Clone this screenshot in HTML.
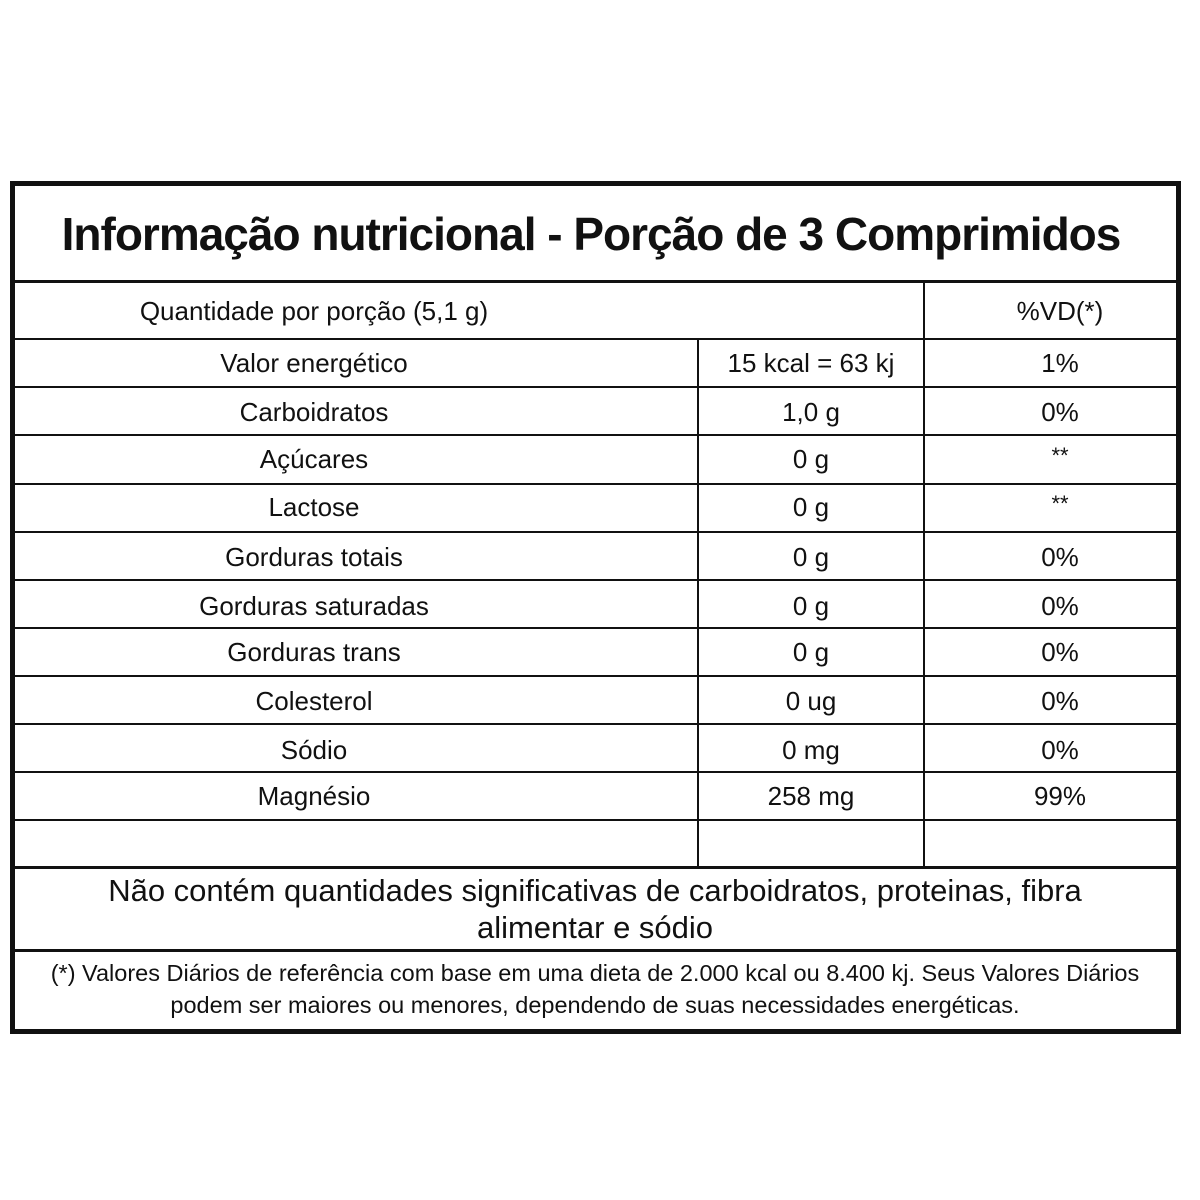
<!DOCTYPE html>
<html><head><meta charset="utf-8"><style>
body{margin:0;width:1200px;height:1200px;background:#fff;position:relative;font-family:"Liberation Sans","DejaVu Sans",sans-serif;color:#111;overflow:hidden}
.box{position:absolute;left:10px;top:181px;width:1161px;height:843px;border:5px solid #111}
.h{position:absolute;height:2px;background:#111}
.v{position:absolute;width:2px;background:#111}
.t{position:absolute;text-align:center;white-space:nowrap;font-size:26px;line-height:30px}
</style></head><body>
<div class="box"></div>
<div class="h" style="left:14px;width:1162px;top:280px;height:3px"></div>
<div class="h" style="left:14px;width:1162px;top:338px"></div>
<div class="h" style="left:14px;width:1162px;top:386px"></div>
<div class="h" style="left:14px;width:1162px;top:434px"></div>
<div class="h" style="left:14px;width:1162px;top:483px"></div>
<div class="h" style="left:14px;width:1162px;top:531px"></div>
<div class="h" style="left:14px;width:1162px;top:579px"></div>
<div class="h" style="left:14px;width:1162px;top:627px"></div>
<div class="h" style="left:14px;width:1162px;top:675px"></div>
<div class="h" style="left:14px;width:1162px;top:723px"></div>
<div class="h" style="left:14px;width:1162px;top:771px"></div>
<div class="h" style="left:14px;width:1162px;top:819px"></div>
<div class="h" style="left:14px;width:1162px;top:866px;height:3px"></div>
<div class="h" style="left:14px;width:1162px;top:949px;height:3px"></div>
<div class="v" style="left:923px;top:282px;height:585px"></div>
<div class="v" style="left:697px;top:339px;height:528px"></div>
<div class="t" style="left:10px;width:1162px;top:204px;font-size:46px;line-height:60px;font-weight:bold;letter-spacing:-1px">Informação nutricional - Porção de 3 Comprimidos</div>
<div class="t" style="left:14px;width:600px;top:296px">Quantidade por porção (5,1 g)</div>
<div class="t" style="left:925px;width:270px;top:296px">%VD(*)</div>
<div class="t" style="left:14px;width:600px;top:348px">Valor energético</div><div class="t" style="left:699px;width:224px;top:348px">15 kcal = 63 kj</div><div class="t" style="left:925px;width:270px;top:348px">1%</div>
<div class="t" style="left:14px;width:600px;top:397px">Carboidratos</div><div class="t" style="left:699px;width:224px;top:397px">1,0 g</div><div class="t" style="left:925px;width:270px;top:397px">0%</div>
<div class="t" style="left:14px;width:600px;top:444px">Açúcares</div><div class="t" style="left:699px;width:224px;top:444px">0 g</div><div class="t" style="left:925px;width:270px;top:441px;font-size:22px">**</div>
<div class="t" style="left:14px;width:600px;top:492px">Lactose</div><div class="t" style="left:699px;width:224px;top:492px">0 g</div><div class="t" style="left:925px;width:270px;top:489px;font-size:22px">**</div>
<div class="t" style="left:14px;width:600px;top:542px">Gorduras totais</div><div class="t" style="left:699px;width:224px;top:542px">0 g</div><div class="t" style="left:925px;width:270px;top:542px">0%</div>
<div class="t" style="left:14px;width:600px;top:591px">Gorduras saturadas</div><div class="t" style="left:699px;width:224px;top:591px">0 g</div><div class="t" style="left:925px;width:270px;top:591px">0%</div>
<div class="t" style="left:14px;width:600px;top:637px">Gorduras trans</div><div class="t" style="left:699px;width:224px;top:637px">0 g</div><div class="t" style="left:925px;width:270px;top:637px">0%</div>
<div class="t" style="left:14px;width:600px;top:686px">Colesterol</div><div class="t" style="left:699px;width:224px;top:686px">0 ug</div><div class="t" style="left:925px;width:270px;top:686px">0%</div>
<div class="t" style="left:14px;width:600px;top:735px">Sódio</div><div class="t" style="left:699px;width:224px;top:735px">0 mg</div><div class="t" style="left:925px;width:270px;top:735px">0%</div>
<div class="t" style="left:14px;width:600px;top:781px">Magnésio</div><div class="t" style="left:699px;width:224px;top:781px">258 mg</div><div class="t" style="left:925px;width:270px;top:781px">99%</div>
<div class="t" style="left:14px;width:1162px;top:872px;font-size:31px;line-height:37px">Não contém quantidades significativas de carboidratos, proteinas, fibra<br>alimentar e sódio</div>
<div class="t" style="left:14px;width:1162px;top:957px;font-size:23.5px;line-height:32px">(*) Valores Diários de referência com base em uma dieta de 2.000 kcal ou 8.400 kj. Seus Valores Diários<br>podem ser maiores ou menores, dependendo de suas necessidades energéticas.</div>
</body></html>
